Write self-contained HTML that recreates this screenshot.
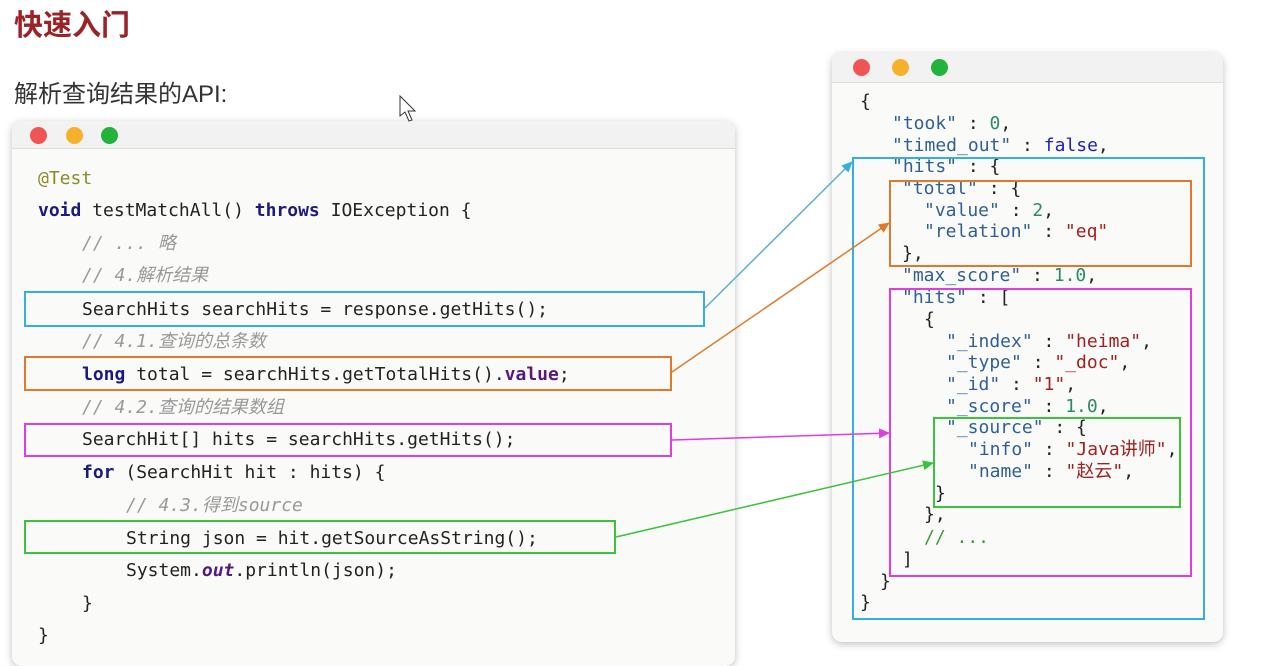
<!DOCTYPE html>
<html><head><meta charset="utf-8"><style>
*{margin:0;padding:0;box-sizing:border-box}
body{width:1267px;height:653px;background:#fff;position:relative;overflow:hidden;font-family:"DejaVu Sans Mono","Liberation Mono","Noto Sans CJK SC",monospace}
.t{position:absolute;white-space:pre;font-size:18px;line-height:22px;color:#222}
.win{position:absolute;background:#fafbf9;border-radius:10px;box-shadow:0 2px 8px rgba(0,0,0,.25)}
.bar{position:absolute;left:0;right:0;top:0;background:#f2f2f2;border-bottom:1px solid #ddd;border-radius:10px 10px 0 0}
.dot{position:absolute;width:17px;height:17px;border-radius:50%}
.k{color:#1a1a80;font-weight:bold}
.c{color:#999;font-style:italic}
.a{color:#8a8a2a}
.s{color:#a32020}
.y{color:#2e5f96}
.n{color:#2a8a6a}
.b{color:#2020c0}
.g{color:#3a9a3a}
.box{position:absolute;border:2px solid}
.L{margin-top:2px}
</style></head><body>
<div style="position:absolute;left:14px;top:2px;font:bold 29px 'Noto Sans CJK SC',sans-serif;color:#9b2226">快速入门</div>
<div style="position:absolute;left:14px;top:74px;font:24px 'Liberation Sans','Noto Sans CJK SC',sans-serif;color:#333">解析查询结果的API:</div>

<div class="win" style="left:12px;top:121px;width:723px;height:545px">
<div class="bar" style="height:28px"></div>
<div class="dot" style="left:18px;top:6px;background:#f05454"></div>
<div class="dot" style="left:54px;top:6px;background:#f5b12c"></div>
<div class="dot" style="left:89px;top:6px;background:#22b33a"></div>
</div>

<div class="t a L" style="left:38px;top:166px">@Test</div>
<div class="t L" style="left:38px;top:198px"><span class="k">void</span> testMatchAll() <span class="k">throws</span> IOException {</div>
<div class="t c L" style="left:82px;top:231px">// ... 略</div>
<div class="t c L" style="left:82px;top:263px">// 4.解析结果</div>
<div class="t L" style="left:82px;top:297px">SearchHits searchHits = response.getHits();</div>
<div class="t c L" style="left:82px;top:329px">// 4.1.查询的总条数</div>
<div class="t L" style="left:82px;top:362px"><span class="k">long</span> total = searchHits.getTotalHits().<span class="k" style="color:#551a80">value</span>;</div>
<div class="t c L" style="left:82px;top:395px">// 4.2.查询的结果数组</div>
<div class="t L" style="left:82px;top:427px">SearchHit[] hits = searchHits.getHits();</div>
<div class="t L" style="left:82px;top:460px"><span class="k">for</span> (SearchHit hit : hits) {</div>
<div class="t c L" style="left:126px;top:493px">// 4.3.得到source</div>
<div class="t L" style="left:126px;top:526px">String json = hit.getSourceAsString();</div>
<div class="t L" style="left:126px;top:558px">System.<i class="k" style="color:#551a80">out</i>.println(json);</div>
<div class="t L" style="left:82px;top:591px">}</div>
<div class="t L" style="left:38px;top:623px">}</div>

<div class="box" style="left:24px;top:291px;width:681px;height:36px;border-color:#35aee0"></div>
<div class="box" style="left:24px;top:356px;width:648px;height:35px;border-color:#e07a2a"></div>
<div class="box" style="left:24px;top:423px;width:648px;height:34px;border-color:#e03ce0"></div>
<div class="box" style="left:24px;top:520px;width:592px;height:34px;border-color:#3cc23c"></div>

<div class="win" style="left:832px;top:53px;width:391px;height:589px">
<div class="bar" style="height:30px"></div>
<div class="dot" style="left:21px;top:6px;background:#f05454"></div>
<div class="dot" style="left:60px;top:6px;background:#f5b12c"></div>
<div class="dot" style="left:99px;top:6px;background:#22b33a"></div>
</div>

<div class="t" style="left:860px;top:91px">{</div>
<div class="t" style="left:892px;top:113px"><span class="y">"took"</span> : <span class="n">0</span>,</div>
<div class="t" style="left:892px;top:135px"><span class="y">"timed_out"</span> : <span class="b">false</span>,</div>
<div class="t" style="left:892px;top:156px"><span class="y">"hits"</span> : {</div>
<div class="t" style="left:902px;top:178px"><span class="y">"total"</span> : {</div>
<div class="t" style="left:924px;top:200px"><span class="y">"value"</span> : <span class="n">2</span>,</div>
<div class="t" style="left:924px;top:221px"><span class="y">"relation"</span> : <span class="s">"eq"</span></div>
<div class="t" style="left:902px;top:243px">},</div>
<div class="t" style="left:902px;top:265px"><span class="y">"max_score"</span> : <span class="n">1.0</span>,</div>
<div class="t" style="left:902px;top:287px"><span class="y">"hits"</span> : [</div>
<div class="t" style="left:924px;top:309px">{</div>
<div class="t" style="left:946px;top:331px"><span class="y">"_index"</span> : <span class="s">"heima"</span>,</div>
<div class="t" style="left:946px;top:352px"><span class="y">"_type"</span> : <span class="s">"_doc"</span>,</div>
<div class="t" style="left:946px;top:374px"><span class="y">"_id"</span> : <span class="s">"1"</span>,</div>
<div class="t" style="left:946px;top:396px"><span class="y">"_score"</span> : <span class="n">1.0</span>,</div>
<div class="t" style="left:946px;top:417px"><span class="y">"_source"</span> : {</div>
<div class="t" style="left:968px;top:439px"><span class="y">"info"</span> : <span class="s">"Java讲师"</span>,</div>
<div class="t" style="left:968px;top:461px"><span class="y">"name"</span> : <span class="s">"赵云"</span>,</div>
<div class="t" style="left:935px;top:483px">}</div>
<div class="t" style="left:924px;top:504px">},</div>
<div class="t g" style="left:924px;top:527px">// ...</div>
<div class="t" style="left:902px;top:549px">]</div>
<div class="t" style="left:880px;top:571px">}</div>
<div class="t" style="left:860px;top:592px">}</div>

<div class="box" style="left:852px;top:157px;width:353px;height:463px;border-color:#35aee0"></div>
<div class="box" style="left:889px;top:180px;width:303px;height:87px;border-color:#e07a2a"></div>
<div class="box" style="left:889px;top:288px;width:303px;height:289px;border-color:#e03ce0"></div>
<div class="box" style="left:933px;top:417px;width:248px;height:91px;border-color:#3cc23c"></div>

<svg width="1267" height="653" style="position:absolute;left:0;top:0">
<defs>
<marker id="mb" markerWidth="11" markerHeight="10" refX="10" refY="5" orient="auto" markerUnits="userSpaceOnUse"><path d="M0,0L11,5L0,10z" fill="#35aee0"/></marker>
<marker id="mo" markerWidth="11" markerHeight="10" refX="10" refY="5" orient="auto" markerUnits="userSpaceOnUse"><path d="M0,0L11,5L0,10z" fill="#e07a2a"/></marker>
<marker id="mm" markerWidth="11" markerHeight="10" refX="10" refY="5" orient="auto" markerUnits="userSpaceOnUse"><path d="M0,0L11,5L0,10z" fill="#e03ce0"/></marker>
<marker id="mg" markerWidth="11" markerHeight="10" refX="10" refY="5" orient="auto" markerUnits="userSpaceOnUse"><path d="M0,0L11,5L0,10z" fill="#3cc23c"/></marker>
</defs>
<line x1="705" y1="308" x2="852" y2="162" stroke="#5ab0d0" stroke-width="1.5" marker-end="url(#mb)"/>
<line x1="672" y1="372" x2="889" y2="223" stroke="#e07a2a" stroke-width="1.5" marker-end="url(#mo)"/>
<line x1="672" y1="440" x2="889" y2="433" stroke="#e03ce0" stroke-width="1.5" marker-end="url(#mm)"/>
<line x1="616" y1="537" x2="933" y2="463" stroke="#3cc23c" stroke-width="1.5" marker-end="url(#mg)"/>
<path d="M400,96 L400,116 L405,112 L409,121 L412,120 L408,111 L415,111 Z" fill="#fff" stroke="#333" stroke-width="1"/>
</svg>
</body></html>
